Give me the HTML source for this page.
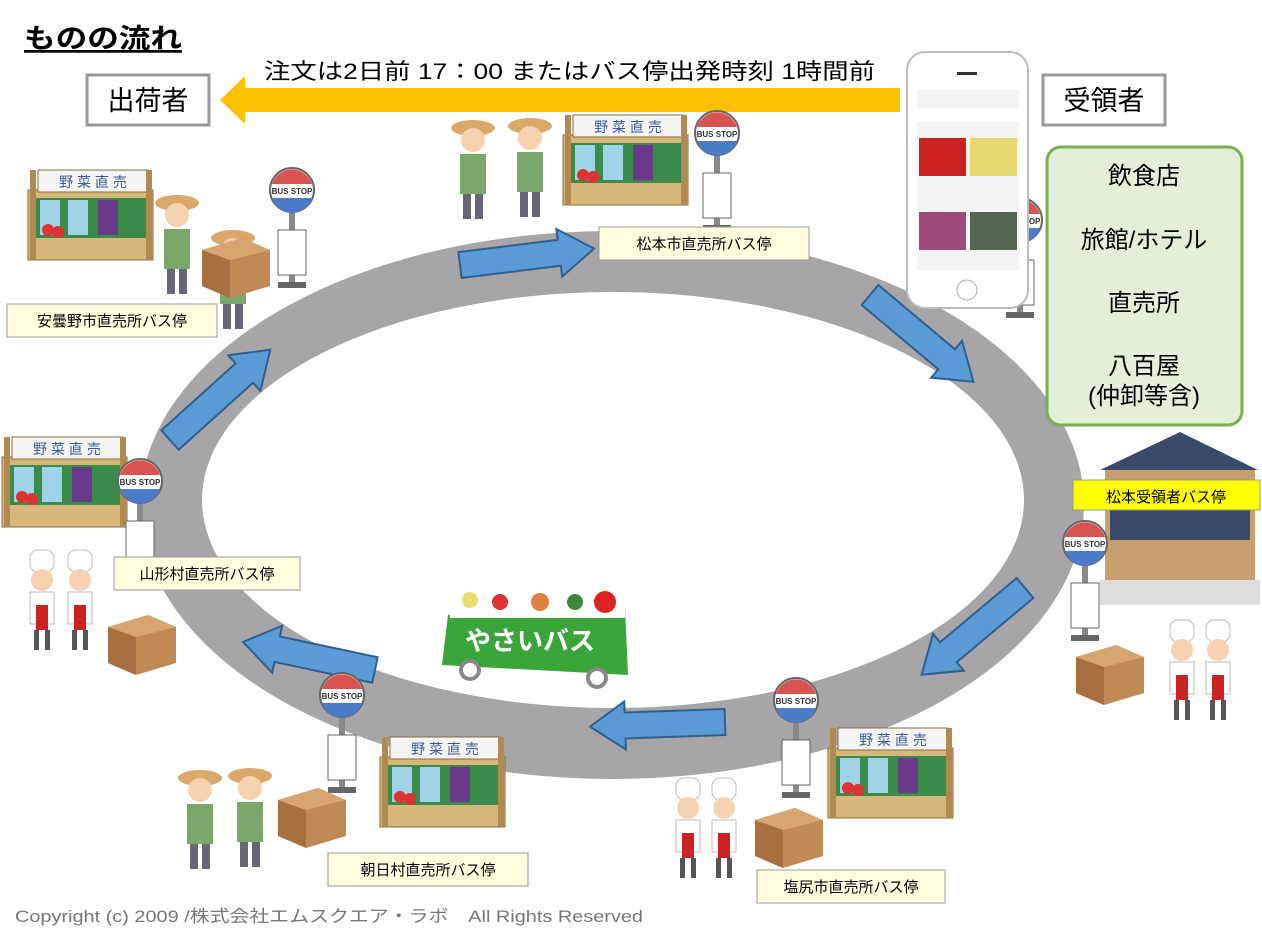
<!DOCTYPE html>
<html><head><meta charset="utf-8"><style>
body{margin:0;width:1262px;height:933px;background:#fff;overflow:hidden;font-family:"Liberation Sans","Noto Sans CJK JP",sans-serif}
svg{position:absolute;left:0;top:0}
text{font-family:"Liberation Sans","Noto Sans CJK JP",sans-serif}
</style></head><body>
<svg width="1262" height="933" viewBox="0 0 1262 933">
<defs>
<g id="stall">
 <rect x="0" y="20" width="125" height="70" fill="#d8b87a" stroke="#8a6a3a"/>
 <rect x="8" y="28" width="110" height="40" fill="#3a8a4a"/>
 <rect x="12" y="30" width="20" height="35" fill="#9fd4e8"/><rect x="40" y="30" width="20" height="35" fill="#9fd4e8"/><rect x="70" y="30" width="20" height="35" fill="#6a3a8a"/>
 <circle cx="20" cy="60" r="6" fill="#d33"/><circle cx="30" cy="62" r="6" fill="#d33"/>
 <rect x="10" y="0" width="110" height="22" fill="#f4f4f4" stroke="#8a6a3a"/>
 <text x="65" y="17" font-size="14" fill="#3a5aa0" text-anchor="middle">野 菜 直 売</text>
 <rect x="2" y="0" width="6" height="90" fill="#b08a50"/><rect x="118" y="0" width="6" height="90" fill="#b08a50"/>
</g>
<g id="stop">
 <rect x="-3" y="20" width="6" height="75" fill="#888"/>
 <rect x="-14" y="40" width="28" height="45" fill="#fff" stroke="#666"/>
 <rect x="-14" y="92" width="28" height="6" fill="#666"/>
 <circle cx="0" cy="0" r="22" fill="#fff" stroke="#666" stroke-width="2"/>
 <path d="M-20,-6 A21,21 0 0 1 20,-6 Z" fill="#d9534f"/>
 <path d="M-20,8 A21,21 0 0 0 20,8 Z" fill="#4a7cc9"/>
 <text x="0" y="4" font-size="8" text-anchor="middle" fill="#333" font-weight="bold">BUS STOP</text>
</g>
<g id="box">
 <polygon points="0,12 40,0 68,12 68,48 28,60 0,48" fill="#c08a55"/>
 <polygon points="0,12 28,22 28,60 0,48" fill="#a87040"/>
 <polygon points="0,12 40,0 68,12 28,22" fill="#d8a570"/>
</g>
<g id="chef">
 <rect x="-12" y="0" width="24" height="22" rx="8" fill="#fff" stroke="#bbb"/>
 <circle cx="0" cy="30" r="11" fill="#f6d2b0"/>
 <rect x="-12" y="42" width="24" height="32" fill="#fff" stroke="#bbb"/>
 <rect x="-6" y="55" width="12" height="25" fill="#c22"/>
 <rect x="-8" y="80" width="5" height="20" fill="#555"/><rect x="3" y="80" width="5" height="20" fill="#555"/>
</g>
<g id="farmer">
 <ellipse cx="0" cy="8" rx="22" ry="8" fill="#d9a86a"/>
 <circle cx="0" cy="20" r="12" fill="#f6d2b0"/>
 <rect x="-13" y="34" width="26" height="40" fill="#7aa86a"/>
 <rect x="-10" y="74" width="8" height="25" fill="#667"/><rect x="2" y="74" width="8" height="25" fill="#667"/>
</g>
<g id="arr">
 <polygon points="0,-13 100,-13 100,-24 135,0 100,24 100,13 0,13" fill="#5b9bd5" stroke="#2f5f8f" stroke-width="2"/>
</g>
</defs>

<text x="24" y="48" font-size="27" font-weight="bold" text-decoration="underline" textLength="158" lengthAdjust="spacingAndGlyphs">ものの流れ</text>
<text x="264" y="79" font-size="22" textLength="611" lengthAdjust="spacingAndGlyphs">注文は2日前 17：00 またはバス停出発時刻 1時間前</text>
<polygon points="900,88 245,88 245,76 220,100 245,124 245,112 900,112" fill="#ffc000"/>
<rect x="87" y="75" width="122" height="50" fill="#fff" stroke="#999" stroke-width="3"/>
<text x="148" y="110" font-size="27" text-anchor="middle">出荷者</text>
<rect x="1043" y="75" width="122" height="50" fill="#fff" stroke="#999" stroke-width="3"/>
<text x="1104" y="110" font-size="27" text-anchor="middle">受領者</text>

<path fill="#a7a5a7" fill-rule="evenodd" d="M140,505 A472,274 0 1 0 1084,505 A472,274 0 1 0 140,505 Z M202,500 A411,208 0 1 0 1024,500 A411,208 0 1 0 202,500 Z"/>

<use href="#arr" transform="translate(460,265) rotate(-7)"/>
<use href="#arr" transform="translate(870,295) rotate(40)"/>
<use href="#arr" transform="translate(1025,588) rotate(140)"/>
<use href="#arr" transform="translate(725,722) rotate(178)"/>
<use href="#arr" transform="translate(375,670) rotate(192)"/>
<use href="#arr" transform="translate(170,440) rotate(-42)"/>

<use href="#stop" transform="translate(1020,220)"/>
<!-- phone -->
<rect x="907" y="52" width="121" height="256" rx="18" fill="#fff" stroke="#bbb" stroke-width="2"/>
<rect x="917" y="90" width="102" height="180" fill="#f4f4f4"/>
<rect x="917" y="108" width="102" height="14" fill="#fff"/>
<rect x="919" y="138" width="47" height="38" fill="#c22"/><rect x="970" y="138" width="47" height="38" fill="#e8d870"/>
<rect x="919" y="212" width="47" height="38" fill="#a04a7a"/><rect x="970" y="212" width="47" height="38" fill="#556655"/>
<rect x="957" y="72" width="20" height="3" fill="#333"/>
<circle cx="967" cy="290" r="10" fill="#fff" stroke="#aaa"/>

<rect x="1047" y="147" width="195" height="278" rx="14" fill="#e2efd9" stroke="#77b04d" stroke-width="3"/>
<g font-size="24" text-anchor="middle">
<text x="1144" y="184">飲食店</text><text x="1144" y="248">旅館/ホテル</text><text x="1144" y="311">直売所</text><text x="1144" y="374">八百屋</text><text x="1144" y="404">(仲卸等含)</text></g>

<!-- building -->
<polygon points="1100,470 1180,432 1258,470" fill="#3a4a6a"/>
<rect x="1105" y="470" width="150" height="135" fill="#c8a070"/>
<rect x="1110" y="510" width="140" height="30" fill="#3a4a6a"/>
<rect x="1100" y="580" width="160" height="25" fill="#ddd"/>
<rect x="1073" y="480" width="187" height="30" fill="#ffff00" stroke="#999"/>
<text x="1166" y="502" font-size="15" text-anchor="middle">松本受領者バス停</text>
<use href="#stop" transform="translate(1085,543)"/>
<use href="#box" transform="translate(1076,645)"/>
<use href="#chef" transform="translate(1182,620)"/><use href="#chef" transform="translate(1218,620)"/>

<!-- top -->
<use href="#stall" transform="translate(563,115)"/>
<use href="#farmer" transform="translate(473,120)"/><use href="#farmer" transform="translate(530,118)"/>
<use href="#stop" transform="translate(717,133)"/>
<rect x="599" y="227" width="210" height="33" fill="#ffffe0" stroke="#999"/>
<text x="704" y="249" font-size="15" text-anchor="middle">松本市直売所バス停</text>

<!-- upper left -->
<use href="#stall" transform="translate(28,170)"/>
<use href="#farmer" transform="translate(177,195)"/><use href="#farmer" transform="translate(233,230)"/>
<use href="#box" transform="translate(202,238)"/>
<use href="#stop" transform="translate(292,190)"/>
<rect x="7" y="304" width="210" height="33" fill="#ffffe0" stroke="#999"/>
<text x="112" y="326" font-size="15" text-anchor="middle">安曇野市直売所バス停</text>

<!-- left -->
<use href="#stall" transform="translate(2,437)"/>
<use href="#stop" transform="translate(140,481)"/>
<use href="#chef" transform="translate(42,550)"/><use href="#chef" transform="translate(80,550)"/>
<use href="#box" transform="translate(108,615)"/>
<rect x="114" y="557" width="186" height="33" fill="#ffffe0" stroke="#999"/>
<text x="207" y="579" font-size="15" text-anchor="middle">山形村直売所バス停</text>

<!-- bus -->
<polygon points="448,615 625,608 628,675 442,665" fill="#3aa53a"/>
<rect x="450" y="588" width="175" height="30" fill="#fff"/>
<circle cx="470" cy="600" r="8" fill="#e8e070"/><circle cx="500" cy="602" r="8" fill="#d33"/><circle cx="540" cy="602" r="9" fill="#e08040"/><circle cx="575" cy="602" r="8" fill="#3a8a3a"/><circle cx="605" cy="602" r="11" fill="#d22"/>
<text x="530" y="650" font-size="26" fill="#fff" text-anchor="middle" font-weight="bold">やさいバス</text>
<circle cx="470" cy="670" r="9" fill="#fff" stroke="#888" stroke-width="4"/><circle cx="597" cy="678" r="9" fill="#fff" stroke="#888" stroke-width="4"/>

<!-- bottom -->
<use href="#stop" transform="translate(342,695)"/>
<use href="#stall" transform="translate(380,737)"/>
<use href="#farmer" transform="translate(200,770)"/><use href="#farmer" transform="translate(250,768)"/>
<use href="#box" transform="translate(278,788)"/>
<rect x="328" y="853" width="200" height="33" fill="#ffffe0" stroke="#999"/>
<text x="428" y="875" font-size="15" text-anchor="middle">朝日村直売所バス停</text>

<use href="#stop" transform="translate(796,700)"/>
<use href="#stall" transform="translate(828,728)"/>
<use href="#chef" transform="translate(688,778)"/><use href="#chef" transform="translate(724,778)"/>
<use href="#box" transform="translate(755,808)"/>
<rect x="757" y="870" width="188" height="33" fill="#ffffe0" stroke="#999"/>
<text x="851" y="892" font-size="15" text-anchor="middle">塩尻市直売所バス停</text>

<text x="15" y="922" font-size="17" fill="#777" textLength="628" lengthAdjust="spacingAndGlyphs">Copyright (c) 2009 /株式会社エムスクエア・ラボ　All Rights Reserved</text>
</svg>
</body></html>
